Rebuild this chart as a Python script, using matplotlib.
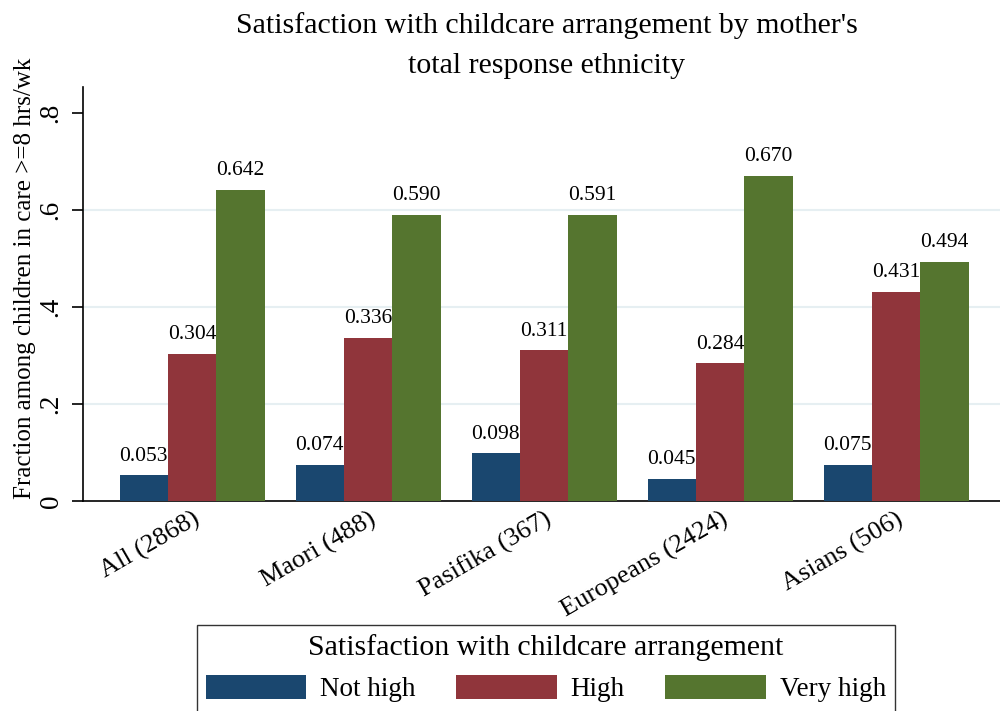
import numpy as np
import matplotlib
matplotlib.use("Agg")
import matplotlib.pyplot as plt
from matplotlib.patches import Patch

# ---- data ----
groups = ["All (2868)", "Maori (488)", "Pasifika (367)", "Europeans (2424)", "Asians (506)"]
series_names = ["Not high", "High", "Very high"]
not_high = [0.053, 0.074, 0.098, 0.045, 0.075]
high = [0.304, 0.336, 0.311, 0.284, 0.431]
very_high = [0.642, 0.590, 0.591, 0.670, 0.494]
yticks = [0, 0.2, 0.4, 0.6, 0.8]
ytick_labels = ["0", ".2", ".4", ".6", ".8"]

colors = ["#1a476f", "#90353b", "#55752f"]
plt.rcParams["font.family"] = ["Liberation Serif", "DejaVu Serif"]

fig = plt.figure(figsize=(10, 7.11), dpi=100)
ax = fig.add_axes([0.083, 0.2954, 0.917, 0.5822])

x = np.arange(len(groups))
w = 0.275
for i, (vals, col) in enumerate(zip([not_high, high, very_high], colors)):
    pos = x + (i - 1) * w
    ax.bar(pos, vals, width=w, color=col, zorder=3, linewidth=0)
    for p, v in zip(pos, vals):
        ax.annotate(f"{v:.3f}", (p, v), xytext=(0, 7), textcoords="offset points",
                    ha="center", va="bottom", fontsize=15.5)

ax.set_xlim(-0.62, 4.59)
ax.set_ylim(0, 0.854)
ax.set_yticks(yticks)
ax.set_yticklabels(ytick_labels, rotation=90, va="center", fontsize=19.5)
for g in [0.2, 0.4, 0.6]:
    ax.axhline(g, color="#e6eff2", lw=1.5, zorder=1)
ax.set_xticks(x)
ax.set_xticklabels(groups, rotation=30, ha="right", rotation_mode="anchor", fontsize=19)
ax.tick_params(axis="x", length=0, pad=5)
ax.tick_params(axis="y", length=8, width=1.2, pad=6)
for s in ["top", "right"]:
    ax.spines[s].set_visible(False)
for s in ["left", "bottom"]:
    ax.spines[s].set_linewidth(1.2)
ax.set_ylabel("Fraction among children in care >=8 hrs/wk", fontsize=18)
ax.yaxis.set_label_coords(-0.051, 0.537)

fig.suptitle("Satisfaction with childcare arrangement by mother's\ntotal response ethnicity",
             x=0.547, y=0.983, fontsize=21.5, linespacing=1.7)

handles = [Patch(facecolor=c, edgecolor="none") for c in colors]
leg = fig.legend(handles, series_names, title="Satisfaction with childcare arrangement",
                 ncol=3, loc="lower center", bbox_to_anchor=(0.546, -0.02),
                 fontsize=19.5, title_fontsize=21.5, handlelength=3.7, handleheight=1.0,
                 columnspacing=1.5, frameon=True, fancybox=False, borderpad=0.35,
                 handletextpad=0.52)
leg.get_frame().set_edgecolor("black")
leg.get_frame().set_linewidth(1.0)

fig.savefig("out.png", dpi=100)
